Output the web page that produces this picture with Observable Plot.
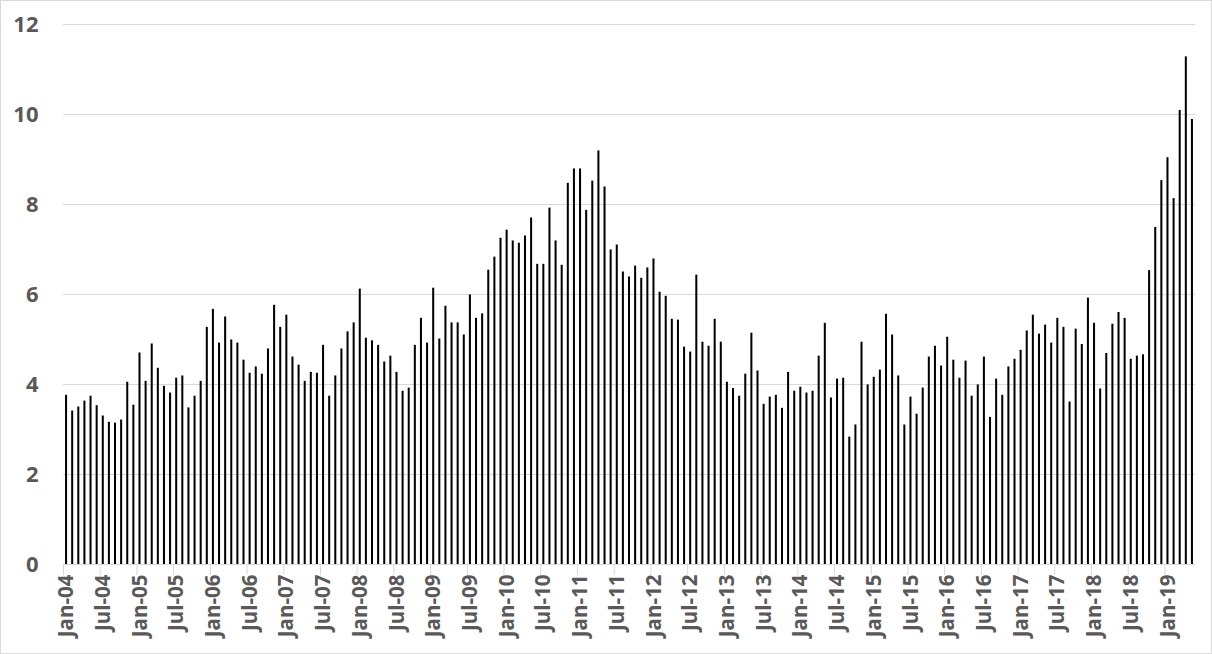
<!DOCTYPE html>
<html>
<head>
<meta charset="utf-8">
<script src="https://cdn.jsdelivr.net/npm/d3@7"></script>
<script src="https://cdn.jsdelivr.net/npm/@observablehq/plot@0.6"></script>
<style>
  html, body { margin: 0; padding: 0; background: #fff; }
  #chart svg { display: block; outline: 1px solid #d9d9d9; outline-offset: -1px; }
</style>
</head>
<body>
<div id="chart"></div>
<script>
// Monthly categories Jan-04 .. May-19
const months = d3.utcMonth
  .range(new Date(Date.UTC(2004, 0, 1)), new Date(Date.UTC(2019, 5, 1)))
  .map(d3.utcFormat("%b-%y"));

// Values (one per month)
const values = [
  3.76, 3.41, 3.50, 3.63, 3.74, 3.53, 3.30, 3.16, 3.14, 3.21, 4.05, 3.54,
  4.70, 4.07, 4.90, 4.36, 3.96, 3.81, 4.14, 4.19, 3.48, 3.74, 4.07, 5.27,
  5.67, 4.92, 5.50, 4.99, 4.92, 4.54, 4.25, 4.39, 4.23, 4.79, 5.76, 5.27,
  5.54, 4.61, 4.43, 4.07, 4.27, 4.25, 4.87, 3.74, 4.19, 4.79, 5.17, 5.37,
  6.12, 5.03, 4.97, 4.87, 4.50, 4.63, 4.27, 3.85, 3.92, 4.87, 5.47, 4.92,
  6.14, 5.01, 5.74, 5.37, 5.37, 5.10, 5.99, 5.47, 5.57, 6.54, 6.83, 7.25,
  7.43, 7.19, 7.14, 7.30, 7.70, 6.67, 6.67, 7.92, 7.19, 6.65, 8.47, 8.79,
  8.79, 7.87, 8.52, 9.19, 8.39, 6.99, 7.10, 6.50, 6.39, 6.63, 6.36, 6.59,
  6.79, 6.05, 5.96, 5.45, 5.43, 4.83, 4.72, 6.43, 4.94, 4.85, 5.45, 4.94,
  4.05, 3.91, 3.74, 4.23, 5.14, 4.30, 3.56, 3.72, 3.76, 3.47, 4.27, 3.85,
  3.94, 3.81, 3.85, 4.63, 5.36, 3.70, 4.12, 4.14, 2.83, 3.10, 4.94, 3.99,
  4.16, 4.32, 5.56, 5.10, 4.19, 3.10, 3.72, 3.34, 3.92, 4.61, 4.85, 4.41,
  5.05, 4.54, 4.14, 4.52, 3.74, 3.99, 4.61, 3.27, 4.12, 3.76, 4.39, 4.56,
  4.76, 5.19, 5.54, 5.12, 5.32, 4.92, 5.47, 5.27, 3.61, 5.23, 4.89, 5.92,
  5.36, 3.90, 4.69, 5.34, 5.60, 5.47, 4.56, 4.63, 4.66, 6.53, 7.49, 8.53,
  9.04, 8.13, 10.09, 11.28, 9.89
];

const tickLabels = [
  "Jan-04", "Jul-04", "Jan-05", "Jul-05", "Jan-06", "Jul-06", "Jan-07", "Jul-07",
  "Jan-08", "Jul-08", "Jan-09", "Jul-09", "Jan-10", "Jul-10", "Jan-11", "Jul-11",
  "Jan-12", "Jul-12", "Jan-13", "Jul-13", "Jan-14", "Jul-14", "Jan-15", "Jul-15",
  "Jan-16", "Jul-16", "Jan-17", "Jul-17", "Jan-18", "Jul-18", "Jan-19"
];
const yTicks = [0, 2, 4, 6, 8, 10, 12];

const data = months.map((m, i) => ({month: m, value: values[i]}));

const W = 1212, H = 654;
const mL = 63, mR = 17, mT = 24, mB = 90;
const step = (W - mL - mR) / months.length;

const chart = Plot.plot({
  width: W,
  height: H,
  marginLeft: mL,
  marginRight: mR,
  marginTop: mT,
  marginBottom: mB,
  style: {fontFamily: "'Open Sans', sans-serif", background: "#fff"},
  x: {domain: months, paddingInner: 0.67, paddingOuter: 0.335, round: false, label: null},
  y: {domain: [0, 12], label: null},
  marks: [
    Plot.gridY(yTicks.filter(d => d > 0), {stroke: "#d9d9d9", strokeOpacity: 1, strokeWidth: 1}),
    Plot.axisY(yTicks, {
      tickSize: 0, tickPadding: 25, label: null,
      fill: "#595959", fontSize: 22, fontWeight: "bold"
    }),
    Plot.axisX(tickLabels, {
      tickSize: 11, tickFormat: () => "", stroke: "#d9d9d9", strokeOpacity: 1,
      dx: -step / 2, label: null
    }),
    Plot.axisX(tickLabels, {
      tickSize: 0, tickPadding: 10, tickRotate: -90, label: null,
      fill: "#595959", fontSize: 20.5, fontWeight: "bold"
    }),
    Plot.barY(data, {x: "month", y: "value", fill: "#000"}),
    Plot.ruleY([0], {stroke: "#d9d9d9", strokeWidth: 1})
  ]
});
document.getElementById("chart").appendChild(chart);
</script>
</body>
</html>
